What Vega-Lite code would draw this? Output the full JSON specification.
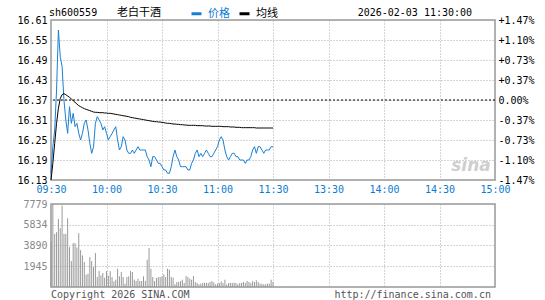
{
  "$schema": "https://vega.github.io/schema/vega-lite/v6.json",
  "padding": {"left": 16, "top": 6, "right": 5, "bottom": 2},
  "background": "white",
  "spacing": 24,
  "bounds": "flush",
  "config": {
    "view": {"stroke": "#999999", "strokeWidth": 1.5},
    "axis": {"gridColor": "#aaaaaa", "gridDash": [1, 2], "gridWidth": 1, "domain": false, "ticks": false, "labelFont": "DejaVu Sans Mono", "labelFontSize": 10}
  },
  "data": {"values": [
    {"m":0,"price":16.15,"avg":16.13,"vol":4200},
    {"m":1,"price":16.23,"avg":16.18,"vol":7779},
    {"m":2,"price":16.28,"avg":16.24,"vol":4980},
    {"m":3,"price":16.40,"avg":16.30,"vol":5136},
    {"m":4,"price":16.58,"avg":16.345,"vol":6383},
    {"m":5,"price":16.50,"avg":16.375,"vol":5510},
    {"m":6,"price":16.47,"avg":16.386,"vol":7627},
    {"m":7,"price":16.37,"avg":16.389,"vol":4980},
    {"m":8,"price":16.31,"avg":16.386,"vol":4980},
    {"m":9,"price":16.27,"avg":16.382,"vol":6445},
    {"m":10,"price":16.35,"avg":16.378,"vol":3736},
    {"m":11,"price":16.30,"avg":16.373,"vol":2428},
    {"m":12,"price":16.33,"avg":16.368,"vol":4110},
    {"m":13,"price":16.29,"avg":16.363,"vol":4110},
    {"m":14,"price":16.30,"avg":16.358,"vol":3705},
    {"m":15,"price":16.27,"avg":16.353,"vol":5043},
    {"m":16,"price":16.25,"avg":16.350,"vol":3456},
    {"m":17,"price":16.27,"avg":16.347,"vol":2957},
    {"m":18,"price":16.30,"avg":16.344,"vol":2335},
    {"m":19,"price":16.31,"avg":16.342,"vol":1152},
    {"m":20,"price":16.28,"avg":16.340,"vol":1245},
    {"m":21,"price":16.24,"avg":16.338,"vol":2802},
    {"m":22,"price":16.21,"avg":16.336,"vol":2428},
    {"m":23,"price":16.23,"avg":16.334,"vol":1868},
    {"m":24,"price":16.30,"avg":16.333,"vol":3176},
    {"m":25,"price":16.32,"avg":16.333,"vol":934},
    {"m":26,"price":16.31,"avg":16.332,"vol":1494},
    {"m":27,"price":16.30,"avg":16.332,"vol":1090},
    {"m":28,"price":16.28,"avg":16.332,"vol":1307},
    {"m":29,"price":16.29,"avg":16.331,"vol":872},
    {"m":30,"price":16.27,"avg":16.331,"vol":1494},
    {"m":31,"price":16.25,"avg":16.330,"vol":1059},
    {"m":32,"price":16.26,"avg":16.330,"vol":1494},
    {"m":33,"price":16.27,"avg":16.329,"vol":934},
    {"m":34,"price":16.28,"avg":16.328,"vol":529},
    {"m":35,"price":16.29,"avg":16.327,"vol":685},
    {"m":36,"price":16.25,"avg":16.326,"vol":1712},
    {"m":37,"price":16.22,"avg":16.325,"vol":996},
    {"m":38,"price":16.23,"avg":16.324,"vol":1401},
    {"m":39,"price":16.26,"avg":16.323,"vol":934},
    {"m":40,"price":16.25,"avg":16.322,"vol":311},
    {"m":41,"price":16.22,"avg":16.321,"vol":934},
    {"m":42,"price":16.21,"avg":16.320,"vol":996},
    {"m":43,"price":16.21,"avg":16.318,"vol":1494},
    {"m":44,"price":16.22,"avg":16.317,"vol":1401},
    {"m":45,"price":16.21,"avg":16.316,"vol":685},
    {"m":46,"price":16.22,"avg":16.315,"vol":560},
    {"m":47,"price":16.23,"avg":16.314,"vol":778},
    {"m":48,"price":16.22,"avg":16.313,"vol":560},
    {"m":49,"price":16.22,"avg":16.312,"vol":560},
    {"m":50,"price":16.22,"avg":16.311,"vol":996},
    {"m":51,"price":16.22,"avg":16.310,"vol":560},
    {"m":52,"price":16.20,"avg":16.309,"vol":2553},
    {"m":53,"price":16.19,"avg":16.308,"vol":3643},
    {"m":54,"price":16.17,"avg":16.307,"vol":1712},
    {"m":55,"price":16.20,"avg":16.306,"vol":934},
    {"m":56,"price":16.20,"avg":16.305,"vol":560},
    {"m":57,"price":16.19,"avg":16.305,"vol":840},
    {"m":58,"price":16.18,"avg":16.304,"vol":934},
    {"m":59,"price":16.18,"avg":16.304,"vol":934},
    {"m":60,"price":16.17,"avg":16.303,"vol":996},
    {"m":61,"price":16.16,"avg":16.302,"vol":1183},
    {"m":62,"price":16.16,"avg":16.301,"vol":934},
    {"m":63,"price":16.15,"avg":16.300,"vol":1712},
    {"m":64,"price":16.15,"avg":16.300,"vol":1619},
    {"m":65,"price":16.17,"avg":16.299,"vol":934},
    {"m":66,"price":16.20,"avg":16.298,"vol":872},
    {"m":67,"price":16.22,"avg":16.298,"vol":249},
    {"m":68,"price":16.20,"avg":16.297,"vol":467},
    {"m":69,"price":16.19,"avg":16.297,"vol":467},
    {"m":70,"price":16.17,"avg":16.296,"vol":560},
    {"m":71,"price":16.17,"avg":16.296,"vol":685},
    {"m":72,"price":16.17,"avg":16.295,"vol":374},
    {"m":73,"price":16.17,"avg":16.295,"vol":1028},
    {"m":74,"price":16.16,"avg":16.294,"vol":934},
    {"m":75,"price":16.16,"avg":16.294,"vol":778},
    {"m":76,"price":16.18,"avg":16.294,"vol":685},
    {"m":77,"price":16.19,"avg":16.294,"vol":1028},
    {"m":78,"price":16.21,"avg":16.294,"vol":467},
    {"m":79,"price":16.22,"avg":16.293,"vol":374},
    {"m":80,"price":16.20,"avg":16.293,"vol":249},
    {"m":81,"price":16.21,"avg":16.293,"vol":311},
    {"m":82,"price":16.20,"avg":16.293,"vol":374},
    {"m":83,"price":16.21,"avg":16.292,"vol":400},
    {"m":84,"price":16.22,"avg":16.292,"vol":374},
    {"m":85,"price":16.21,"avg":16.292,"vol":374},
    {"m":86,"price":16.20,"avg":16.292,"vol":467},
    {"m":87,"price":16.20,"avg":16.291,"vol":560},
    {"m":88,"price":16.21,"avg":16.291,"vol":436},
    {"m":89,"price":16.22,"avg":16.291,"vol":249},
    {"m":90,"price":16.23,"avg":16.291,"vol":311},
    {"m":91,"price":16.25,"avg":16.291,"vol":374},
    {"m":92,"price":16.26,"avg":16.291,"vol":529},
    {"m":93,"price":16.25,"avg":16.290,"vol":374},
    {"m":94,"price":16.22,"avg":16.290,"vol":685},
    {"m":95,"price":16.20,"avg":16.290,"vol":249},
    {"m":96,"price":16.19,"avg":16.290,"vol":374},
    {"m":97,"price":16.20,"avg":16.289,"vol":374},
    {"m":98,"price":16.21,"avg":16.289,"vol":374},
    {"m":99,"price":16.21,"avg":16.289,"vol":400},
    {"m":100,"price":16.20,"avg":16.288,"vol":374},
    {"m":101,"price":16.20,"avg":16.288,"vol":249},
    {"m":102,"price":16.19,"avg":16.288,"vol":374},
    {"m":103,"price":16.19,"avg":16.287,"vol":374},
    {"m":104,"price":16.19,"avg":16.287,"vol":467},
    {"m":105,"price":16.18,"avg":16.287,"vol":374},
    {"m":106,"price":16.19,"avg":16.287,"vol":560},
    {"m":107,"price":16.19,"avg":16.287,"vol":467},
    {"m":108,"price":16.20,"avg":16.287,"vol":374},
    {"m":109,"price":16.22,"avg":16.287,"vol":560},
    {"m":110,"price":16.23,"avg":16.287,"vol":467},
    {"m":111,"price":16.21,"avg":16.286,"vol":622},
    {"m":112,"price":16.23,"avg":16.286,"vol":467},
    {"m":113,"price":16.23,"avg":16.286,"vol":311},
    {"m":114,"price":16.22,"avg":16.286,"vol":311},
    {"m":115,"price":16.21,"avg":16.286,"vol":249},
    {"m":116,"price":16.22,"avg":16.286,"vol":249},
    {"m":117,"price":16.22,"avg":16.286,"vol":311},
    {"m":118,"price":16.22,"avg":16.286,"vol":311},
    {"m":119,"price":16.23,"avg":16.286,"vol":685},
    {"m":120,"price":16.23,"avg":16.286,"vol":467}
  ]},
  "vconcat": [
    {
      "width": 444,
      "height": 160,
      "resolve": {"axis": {"y": "independent"}},
      "layer": [
        {
          "mark": {"type": "line", "strokeWidth": 1},
          "encoding": {
            "x": {"field": "m", "type": "quantitative", "scale": {"domain": [0, 240], "nice": false, "zero": false},
                  "axis": {"title": null, "grid": true, "values": [0, 30, 60, 90, 120, 150, 180, 210, 240],
                           "labelExpr": "['09:30','10:00','10:30','11:00','11:30','13:30','14:00','14:30','15:00'][round(datum.value/30)]",
                           "labelColor": "#0a7ccf", "labelPadding": 4, "labelFlush": false, "labelOverlap": false, "labelBound": false}},
            "y": {"field": "price", "type": "quantitative", "scale": {"domain": [16.13, 16.61], "nice": false, "zero": false},
                  "axis": {"title": null, "orient": "left", "grid": true, "values": [16.13, 16.19, 16.25, 16.31, 16.37, 16.43, 16.49, 16.55, 16.61],
                           "format": ".2f", "labelPadding": 4, "labelOverlap": false, "labelBound": false, "labelFlush": false,
                           "encode": {"labels": {"update": {"fill": [{"test": "datum.value > 16.375", "value": "#ff0000"}, {"test": "datum.value < 16.365", "value": "#0a7ccf"}, {"value": "#000000"}]}}}}},
            "color": {"datum": "价格", "type": "nominal",
                      "scale": {"domain": ["价格", "均线"], "range": ["#1a7fd4", "#000000"]},
                      "legend": {"orient": "none", "legendX": 139, "legendY": -13, "direction": "horizontal", "title": null,
                                 "symbolType": "stroke", "symbolStrokeWidth": 3, "symbolSize": 100,
                                 "labelFont": "Noto Sans CJK SC", "labelFontSize": 11, "labelOffset": 5, "columnPadding": 3, "padding": 0,
                                 "encode": {"labels": {"update": {"fill": [{"test": "datum.value === '价格'", "value": "#0a7ccf"}, {"value": "#000000"}]}}}}}
          }
        },
        {
          "mark": {"type": "line", "strokeWidth": 1},
          "encoding": {
            "x": {"field": "m", "type": "quantitative"},
            "y": {"field": "avg", "type": "quantitative", "scale": {"domain": [16.13, 16.61], "nice": false, "zero": false}, "axis": null},
            "color": {"datum": "均线", "type": "nominal"}
          }
        },
        {
          "data": {"values": [{"close": 16.37}]},
          "mark": {"type": "rule", "color": "#000000", "strokeDash": [2, 2], "strokeWidth": 1},
          "encoding": {
            "y": {"field": "close", "type": "quantitative", "scale": {"domain": [16.13, 16.61], "nice": false, "zero": false},
                  "axis": {"title": null, "orient": "right", "grid": false, "values": [16.13, 16.19, 16.25, 16.31, 16.37, 16.43, 16.49, 16.55, 16.61],
                           "labelPadding": 3, "labelOverlap": false, "labelBound": false, "labelFlush": false,
                           "labelExpr": "abs(datum.value - 16.37) < 0.001 ? '0.00%' : ((datum.value > 16.37 ? '+' : '-') + format(abs(datum.value - 16.37) / 16.37 * 100, '.2f') + '%')",
                           "encode": {"labels": {"update": {"fill": [{"test": "datum.value > 16.375", "value": "#ff0000"}, {"test": "datum.value < 16.365", "value": "#0a7ccf"}, {"value": "#000000"}]}}}}}
          }
        },
        {
          "data": {"values": [{"label": "sina"}]},
          "mark": {"type": "text", "align": "center", "baseline": "middle", "font": "DejaVu Sans", "fontSize": 17, "fontStyle": "italic", "fontWeight": "bold", "color": "#cfcfcf"},
          "encoding": {
            "x": {"datum": 227},
            "y": {"datum": 16.173, "axis": null},
            "text": {"field": "label"}
          }
        },
        {
          "data": {"values": [{"label": "sh600559"}]},
          "mark": {"type": "text", "align": "left", "baseline": "middle", "font": "DejaVu Sans Mono", "fontSize": 10, "color": "#000000", "dx": -2},
          "encoding": {
            "x": {"datum": 0},
            "y": {"datum": 16.631, "axis": null},
            "text": {"field": "label"}
          }
        },
        {
          "data": {"values": [{"label": "老白干酒"}]},
          "mark": {"type": "text", "align": "left", "baseline": "middle", "font": "Noto Sans CJK SC", "fontSize": 11, "color": "#000000"},
          "encoding": {
            "x": {"datum": 35.7},
            "y": {"datum": 16.631, "axis": null},
            "text": {"field": "label"}
          }
        },
        {
          "data": {"values": [{"label": "2026-02-03 11:30:00"}]},
          "mark": {"type": "text", "align": "right", "baseline": "middle", "font": "DejaVu Sans Mono", "fontSize": 10, "color": "#000000"},
          "encoding": {
            "x": {"datum": 227.6},
            "y": {"datum": 16.631, "axis": null},
            "text": {"field": "label"}
          }
        }
      ]
    },
    {
      "width": 444,
      "height": 83,
      "resolve": {"axis": {"y": "independent"}},
      "layer": [
        {
          "mark": {"type": "rule", "color": "#999999", "strokeWidth": 1},
          "encoding": {
            "x": {"field": "m", "type": "quantitative", "scale": {"domain": [0, 240], "nice": false, "zero": false},
                  "axis": {"title": null, "grid": true, "labels": false, "values": [0, 30, 60, 90, 120, 150, 180, 210, 240]}},
            "y": {"field": "vol", "type": "quantitative", "scale": {"domain": [0, 7779], "nice": false},
                  "axis": {"title": null, "grid": true, "values": [0, 1945, 3890, 5834, 7779], "format": "d",
                           "labelExpr": "datum.value == 0 ? '' : datum.label", "labelColor": "#888888", "labelPadding": 4, "labelOverlap": false, "labelBound": false, "labelFlush": false}},
            "y2": {"datum": 0}
          }
        },
        {
          "data": {"values": [{"label": "Copyright 2026 SINA.COM"}]},
          "mark": {"type": "text", "align": "left", "baseline": "middle", "font": "DejaVu Sans Mono", "fontSize": 10, "color": "#555555"},
          "encoding": {
            "x": {"datum": 0},
            "y": {"datum": -750, "axis": null},
            "text": {"field": "label"}
          }
        },
        {
          "data": {"values": [{"label": "http://finance.sina.com.cn"}]},
          "mark": {"type": "text", "align": "right", "baseline": "middle", "font": "DejaVu Sans Mono", "fontSize": 10, "color": "#555555"},
          "encoding": {
            "x": {"datum": 237.8},
            "y": {"datum": -750, "axis": null},
            "text": {"field": "label"}
          }
        }
      ]
    }
  ]
}
